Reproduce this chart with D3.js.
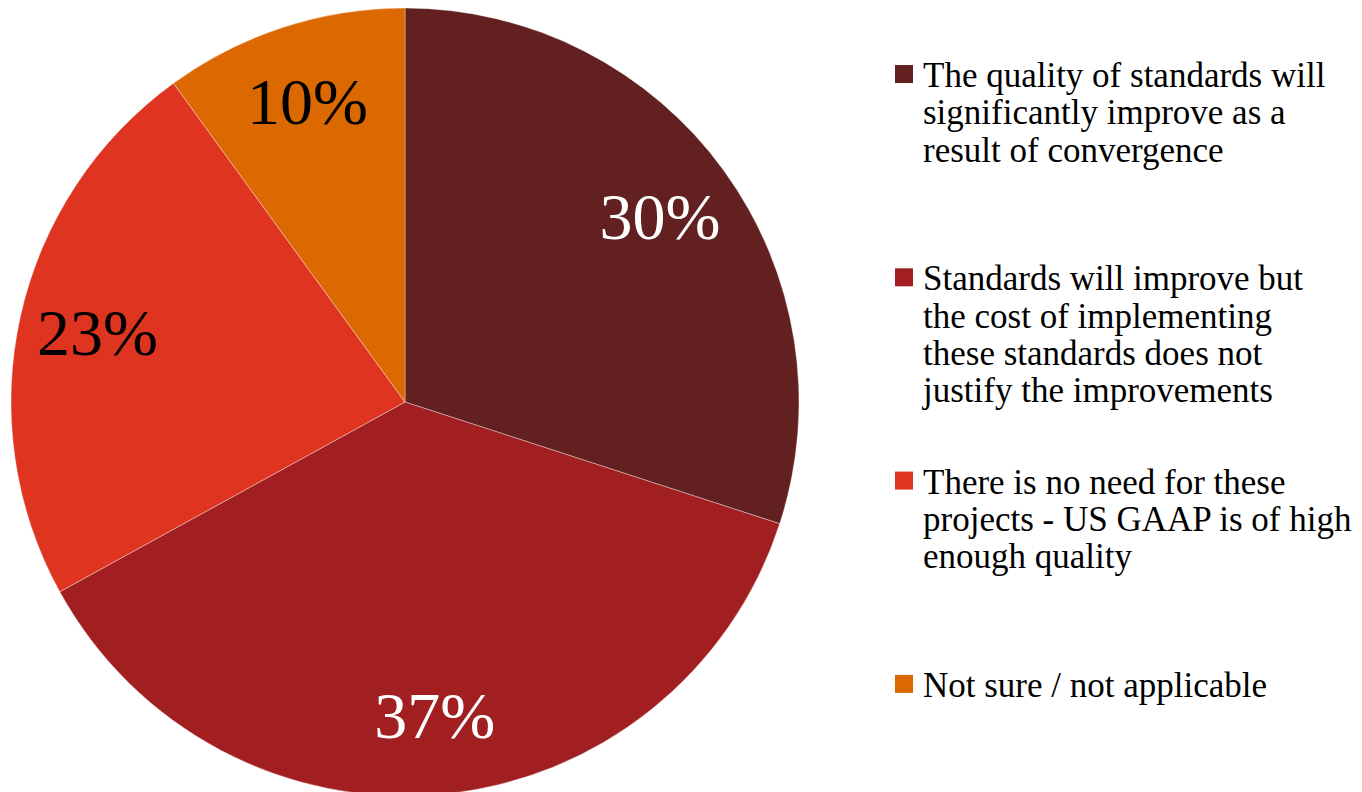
<!DOCTYPE html>
<html>
<head>
<meta charset="utf-8">
<script src="https://cdn.jsdelivr.net/npm/d3@7"></script>
<style>
  html, body { margin: 0; padding: 0; background: #ffffff; }
  svg { display: block; }
  text { font-family: "Liberation Serif", "Times New Roman", serif; }
</style>
</head>
<body>
<svg id="chart" width="1362" height="792"></svg>
<script>
// Survey answers and their shares (percent)
const categories = [
  "The quality of standards will significantly improve as a result of convergence",
  "Standards will improve but the cost of implementing these standards does not justify the improvements",
  "There is no need for these projects - US GAAP is of high enough quality",
  "Not sure / not applicable"
];
const values = [30, 37, 23, 10];
const legendLines = [
  ["The quality of standards will", "significantly improve as a", "result of convergence"],
  ["Standards will improve but", "the cost of implementing", "these standards does not", "justify the improvements"],
  ["There is no need for these", "projects - US GAAP is of high", "enough quality"],
  ["Not sure / not applicable"]
];
const colors = ["#622120", "#A11F21", "#DF341F", "#DB6800"];
const labelColors = ["#ffffff", "#ffffff", "#000000", "#000000"];

const svg = d3.select("#chart");

const cx = 405, cy = 402, radius = 394;

const pie = d3.pie().sort(null).value(d => d)(values);
const arc = d3.arc().innerRadius(0).outerRadius(radius);
const labelArc = d3.arc().innerRadius(radius * 0.8).outerRadius(radius * 0.8);

const g = svg.append("g").attr("transform", `translate(${cx},${cy})`);

g.selectAll("path.slice")
  .data(pie)
  .join("path")
  .attr("class", "slice")
  .attr("d", arc)
  .attr("fill", (d, i) => colors[i])
  .attr("stroke", "rgba(255,255,255,0.45)")
  .attr("stroke-width", 0.8);

g.selectAll("text.pct")
  .data(pie)
  .join("text")
  .attr("class", "pct")
  .attr("transform", d => {
    const [x, y] = labelArc.centroid(d);
    return `translate(${x},${y})`;
  })
  .attr("text-anchor", "middle")
  .attr("dy", "0.33em")
  .attr("font-size", 66)
  .attr("fill", (d, i) => labelColors[i])
  .text(d => d.data + "%");

// Legend
const legendX = 895, legendTop = 87, entryGap = 203.3, lineH = 37.3, box = 18;
const legend = svg.append("g");
const items = legend.selectAll("g.item")
  .data(categories)
  .join("g")
  .attr("class", "item")
  .attr("transform", (d, i) => `translate(${legendX},${legendTop + i * entryGap})`);

items.append("rect")
  .attr("x", 0)
  .attr("y", -22)
  .attr("width", box)
  .attr("height", box)
  .attr("fill", (d, i) => colors[i]);

items.append("text")
  .attr("x", 28)
  .attr("y", 0)
  .attr("font-size", 35)
  .attr("fill", "#000")
  .selectAll("tspan")
  .data((d, i) => legendLines[i])
  .join("tspan")
  .attr("x", 28)
  .attr("dy", (d, j) => j === 0 ? 0 : lineH)
  .text(d => d);
</script>
</body>
</html>
